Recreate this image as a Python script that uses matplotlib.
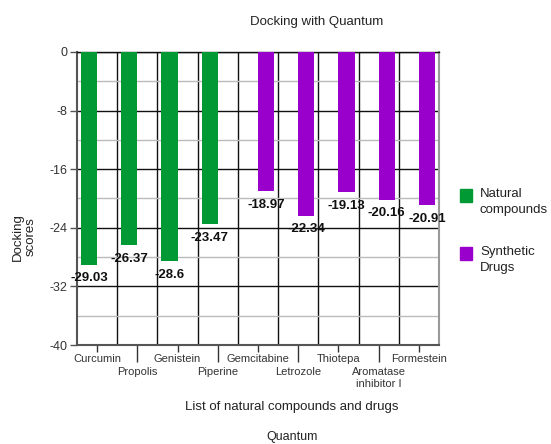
import numpy as np
import matplotlib
matplotlib.use("Agg")
import matplotlib.pyplot as plt
from matplotlib.patches import Rectangle

plt.rcParams["font.family"] = ["Liberation Sans", "DejaVu Sans"]
plt.rcParams["axes.unicode_minus"] = False

compounds = ["Curcumin", "Propolis", "Genistein", "Piperine", "Gemcitabine",
             "Letrozole", "Thiotepa", "Aromatase\ninhibitor I", "Formestein"]
natural_scores = [-29.03, -26.37, -28.6, -23.47, np.nan, np.nan, np.nan, np.nan, np.nan]
synthetic_scores = [np.nan, np.nan, np.nan, np.nan, -18.97, -22.34, -19.13, -20.16, -20.91]
y_ticks = [0, -8, -16, -24, -32, -40]
series_names = ["Natural\ncompounds", "Synthetic\nDrugs"]

GREEN = "#009933"
PURPLE = "#9900cc"

fig = plt.figure(figsize=(5.51, 4.44), dpi=100)
ax = fig.add_axes([77 / 551, 1 - 345 / 444, 362 / 551, 293 / 444])

x = np.arange(len(compounds))
w = 0.4
bars_nat = ax.bar(x - w / 2, natural_scores, w, color=GREEN, zorder=3)
bars_syn = ax.bar(x + w / 2, synthetic_scores, w, color=PURPLE, zorder=3)

# value labels just under the end of each bar
for bars, vals in [(bars_nat, natural_scores), (bars_syn, synthetic_scores)]:
    for bar, v in zip(bars, vals):
        if np.isnan(v):
            continue
        ax.annotate(f"{v:g}", (bar.get_x() + bar.get_width() / 2, v),
                    xytext=(0, -5.5), textcoords="offset points",
                    ha="center", va="top", fontsize=9.5, fontweight="bold",
                    color="#111111", zorder=4)

ax.set_xlim(-0.5, len(compounds) - 0.5)
ax.set_ylim(-40, 0)

# horizontal grid: dark major lines, light minor lines
ax.set_yticks(y_ticks)
ax.set_yticks(np.arange(-36, 0, 8), minor=True)
ax.tick_params(axis="y", which="major", length=5, width=1, color="#555555",
               labelsize=9, labelcolor="#333333", pad=2)
ax.tick_params(axis="y", which="minor", length=0)
ax.grid(axis="y", which="major", color="#111111", linewidth=1, zorder=1)
ax.grid(axis="y", which="minor", color="#bbbbbb", linewidth=1, zorder=1)

# vertical separators between categories
for b in np.arange(0.5, len(compounds) - 0.5, 1):
    ax.axvline(b, color="#111111", linewidth=1, zorder=1)

# staggered category labels: even on the first row, odd on the second
ax.set_xticks(x[::2], [compounds[i] for i in x[::2]])
ax.set_xticks(x[1::2], [compounds[i] for i in x[1::2]], minor=True)
ax.tick_params(axis="x", which="major", length=5, width=1, color="#333333",
               labelsize=8, labelcolor="#333333", pad=1.5)
ax.tick_params(axis="x", which="minor", length=12.5, width=1, color="#333333",
               labelsize=8, labelcolor="#333333", pad=3.5)

for side in ["left", "bottom"]:
    ax.spines[side].set_color("#555555")
    ax.spines[side].set_linewidth(1.5)
ax.spines["right"].set_color("#999999")
ax.spines["right"].set_linewidth(1.5)
ax.spines["top"].set_color("#111111")
ax.spines["top"].set_linewidth(1)

fig.text(0.575, 1 - 22 / 444, "Docking with Quantum", ha="center", va="center",
         fontsize=9.5, color="#222222")
fig.text(292 / 551, 1 - 407 / 444, "List of natural compounds and drugs",
         ha="center", va="center", fontsize=9.5, color="#222222")
fig.text(292 / 551, 1 - 437 / 444, "Quantum", ha="center", va="center",
         fontsize=9, color="#222222")
fig.text(24 / 551, 1 - 237 / 444, "Docking\nscores", ha="center", va="center",
         rotation=90, fontsize=9.5, color="#222222", linespacing=1.1)

# legend: swatch lined up with the first line of each entry
for i, (name, color) in enumerate(zip(series_names, [GREEN, PURPLE])):
    top = 189 + i * 58
    fig.add_artist(Rectangle((460 / 551, 1 - (top + 13) / 444), 12 / 551, 13 / 444,
                             transform=fig.transFigure, color=color))
    fig.text(480 / 551, 1 - (top - 1) / 444, name, ha="left", va="top",
             fontsize=9.5, color="#222222", linespacing=1.45)

fig.savefig("out.png", dpi=100)
